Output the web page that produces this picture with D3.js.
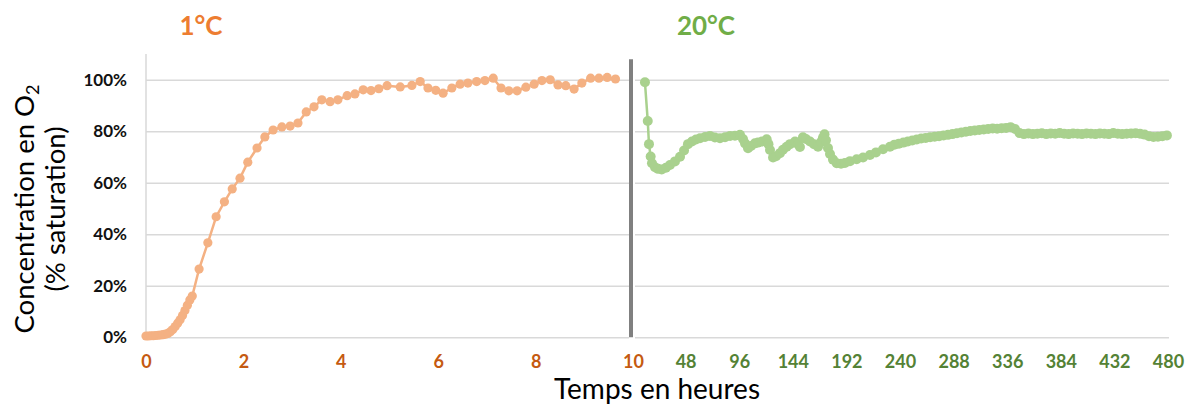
<!DOCTYPE html>
<html>
<head>
<meta charset="utf-8">
<script src="https://cdn.jsdelivr.net/npm/d3@7"></script>
<style>
  html, body { margin: 0; padding: 0; background: #fff; }
  svg { display: block; font-family: Lato, "Open Sans", sans-serif; }
</style>
</head>
<body>
<svg id="chart" width="1186" height="407"></svg>
<script>
// Phase 1: incubation at 1 °C, time in hours
const coldHours = [
  0, 0.05, 0.1, 0.15, 0.2, 0.25, 0.3, 0.35, 0.4, 0.45, 0.5, 0.55, 0.6, 0.65,
  0.7, 0.75, 0.8, 0.85, 0.9, 0.95,
  1.09, 1.27, 1.44, 1.61, 1.77, 1.93, 2.09, 2.28, 2.44, 2.61, 2.79, 2.96,
  3.12, 3.29, 3.45, 3.61, 3.78, 3.94, 4.13, 4.29, 4.46, 4.62, 4.78, 4.95,
  5.22, 5.46, 5.63, 5.79, 5.95, 6.10, 6.28, 6.45, 6.61, 6.79, 6.96, 7.13,
  7.29, 7.45, 7.62, 7.80, 7.97, 8.13, 8.30, 8.46, 8.62, 8.79, 8.95, 9.13,
  9.30, 9.47, 9.64
];
const coldO2 = [
  0.5, 0.5, 0.6, 0.6, 0.7, 0.8, 0.9, 1.0, 1.2, 1.5, 2.2, 3.0, 4.2, 5.5,
  6.8, 8.5, 10.4, 12.4, 14.5, 16.0,
  26.5, 36.7, 46.8, 52.6, 57.6, 61.8, 68.0, 73.5, 77.8, 80.5, 81.7, 82.0,
  83.2, 87.5, 89.5, 92.2, 91.5, 92.2, 93.8, 94.5, 96.1, 95.8, 96.5, 97.7,
  97.2, 97.8, 99.3, 96.8, 95.9, 94.8, 96.8, 98.3, 98.7, 99.3, 99.7, 100.6,
  96.8, 95.7, 95.7, 97.1, 98.3, 99.7, 100.0, 98.0, 97.7, 96.4, 98.7, 100.6,
  100.6, 100.9, 100.3
];

// Phase 2: incubation at 20 °C, time in hours
const warmHours = [
  11.6, 14.1, 15.2, 16.7, 17.9, 20.6, 23.3, 26.6, 30.4, 34, 38.5, 43, 46.6,
  50.1, 53.7, 57.3, 60.9, 65.4, 69.8, 74.3, 78.8, 83.3, 87.8, 92.2, 96.7,
  99.4, 101.2, 103.9, 106.6, 110.1, 112.8, 116.4, 120.6, 122.2, 123.6,
  126.3, 129, 132.5, 135.2, 138.5, 141.5, 146, 148.7, 150.4, 153.1, 155.8,
  159.4, 163, 166.6, 169.2, 171, 172.4, 173.7, 175.5, 177.3, 180, 183.3,
  187.2, 190.7, 195.2, 201.2, 206.9, 213.1, 218.5, 224.8, 231,
  235, 239, 243, 247, 251, 255, 259, 263, 267, 271, 275, 279, 283, 287,
  291, 295, 299, 303, 307, 311, 315, 319, 323, 327, 331, 335, 339, 343,
  347, 351, 355, 359, 363, 367, 371, 375, 379, 383, 387, 391, 395, 399,
  403, 407, 411, 415, 419, 423, 427, 431, 435, 439, 443, 447, 451, 455,
  459, 463, 467, 471, 475, 479
];
const warmO2 = [
  99.0, 84.0, 75.0, 70.2, 67.6, 66.0, 65.4, 65.2, 65.8, 66.9, 68.3, 70.1, 72.5,
  75.0, 76.0, 76.8, 77.3, 77.8, 78.2, 77.6, 77.3, 77.7, 78.2, 78.3, 78.6,
  77.0, 75.3, 73.4, 74.3, 75.3, 75.6, 76.0, 76.9, 75.0, 72.7,
  69.8, 70.3, 71.5, 72.8, 74.0, 75.0, 76.0, 75.0, 73.9, 77.7, 77.0,
  76.0, 75.0, 74.0, 75.8, 77.5, 78.8, 76.5, 73.5, 71.2, 69.0, 67.6,
  67.4, 67.7, 68.4, 69.1, 69.8, 70.8, 71.8, 73.0, 74.0,
  74.8, 75.2, 75.6, 76.0, 76.4, 76.8, 77.2, 77.4, 77.7, 77.9, 78.1, 78.4, 78.6, 78.9,
  79.2, 79.5, 79.8, 80.1, 80.3, 80.5, 80.7, 80.9, 81.1, 81.0, 81.2, 81.3, 81.6, 80.9,
  79.3, 78.9, 79.1, 78.9, 79.0, 79.2, 78.9, 79.1, 79.0, 79.3, 79.0, 78.9, 79.1, 79.0,
  78.9, 79.1, 79.0, 78.9, 79.1, 79.0, 78.9, 79.3, 79.0, 78.9, 79.0, 79.1, 79.2, 79.0,
  78.7, 78.1, 77.8, 77.9, 78.1, 78.4
];

const yTicks = [0, 20, 40, 60, 80, 100];
const coldTicks = [0, 2, 4, 6, 8, 10];
const warmTicks = [48, 96, 144, 192, 240, 288, 336, 384, 432, 480];

const COLD_MARK = "#F4B183", COLD_TEXT = "#C55A11", COLD_TITLE = "#ED7D31";
const WARM_MARK = "#A9D18E", WARM_TEXT = "#548235", WARM_TITLE = "#70AD47";
const GRID = "#D9D9D9";

const svg = d3.select("#chart");

const y = d3.scaleLinear().domain([0, 110]).range([337.3, 54]);
const xCold = d3.scaleLinear().domain([0, 10]).range([146, 633]);
const xWarm = d3.scaleLinear().domain([0, 480]).range([632, 1168]);

// horizontal gridlines for each panel
function grid(x0, x1) {
  const g = svg.append("g").attr("transform", `translate(${x0},0)`)
    .call(d3.axisLeft(y).tickValues(yTicks).tickSize(-(x1 - x0)).tickFormat(""));
  g.select(".domain").remove();
  g.selectAll(".tick line").attr("stroke", GRID).attr("stroke-width", 1.5);
}
grid(146, 629);
grid(635, 1169);

// left vertical axis line
svg.append("line")
  .attr("x1", 146).attr("x2", 146)
  .attr("y1", y(110)).attr("y2", y(0))
  .attr("stroke", GRID).attr("stroke-width", 1.5);

// y tick labels
const yAxis = svg.append("g").attr("transform", "translate(127,0)")
  .call(d3.axisLeft(y).tickValues(yTicks).tickSize(0).tickPadding(0)
    .tickFormat(d => d + "%"));
yAxis.select(".domain").remove();
yAxis.selectAll("text")
  .attr("font-size", 17).attr("font-weight", 700).attr("fill", "#111")
  .attr("font-family", "Lato, sans-serif");

// x tick labels
function xLabels(scale, ticks, color) {
  const g = svg.append("g").attr("transform", "translate(0,355)")
    .call(d3.axisBottom(scale).tickValues(ticks).tickSize(0).tickPadding(0)
      .tickFormat(d3.format("d")));
  g.select(".domain").remove();
  g.selectAll("text")
    .attr("font-size", 18).attr("font-weight", 700).attr("fill", color)
    .attr("font-family", "Lato, sans-serif");
}
xLabels(xCold, coldTicks, COLD_TEXT);
xLabels(xWarm, warmTicks, WARM_TEXT);

// divider between the two phases
svg.append("line")
  .attr("x1", 631).attr("x2", 631)
  .attr("y1", y(108)).attr("y2", y(0))
  .attr("stroke", "#808080").attr("stroke-width", 4);

// series
function series(xs, vs, scale, color, r) {
  const pts = xs.map((t, i) => [scale(t), y(vs[i])]);
  svg.append("path")
    .attr("d", d3.line()(pts))
    .attr("fill", "none").attr("stroke", color)
    .attr("stroke-width", 2.5).attr("stroke-linejoin", "round");
  svg.append("g").selectAll("circle").data(pts).join("circle")
    .attr("cx", d => d[0]).attr("cy", d => d[1]).attr("r", r)
    .attr("fill", color);
}
series(coldHours, coldO2, xCold, COLD_MARK, 4.6);
series(warmHours, warmO2, xWarm, WARM_MARK, 5);

// phase titles
svg.append("text").attr("x", 201).attr("y", 35).attr("text-anchor", "middle")
  .attr("font-size", 26).attr("font-weight", 700).attr("fill", COLD_TITLE)
  .text("1°C");
svg.append("text").attr("x", 706).attr("y", 35).attr("text-anchor", "middle")
  .attr("font-size", 26).attr("font-weight", 700).attr("fill", WARM_TITLE)
  .text("20°C");

// axis titles
svg.append("text").attr("x", 657).attr("y", 399).attr("text-anchor", "middle")
  .attr("font-size", 28).attr("fill", "#000")
  .text("Temps en heures");

const yt = svg.append("text")
  .attr("transform", "translate(0,209) rotate(-90)")
  .attr("text-anchor", "middle").attr("font-size", 27.5).attr("fill", "#000");
const l1 = yt.append("tspan").attr("x", 0).attr("y", 34);
l1.append("tspan").text("Concentration en O");
l1.append("tspan").attr("font-size", 18).attr("dy", 5).text("2");
yt.append("tspan").attr("x", 0).attr("y", 65).attr("dy", 0).text("(% saturation)");
</script>
</body>
</html>
